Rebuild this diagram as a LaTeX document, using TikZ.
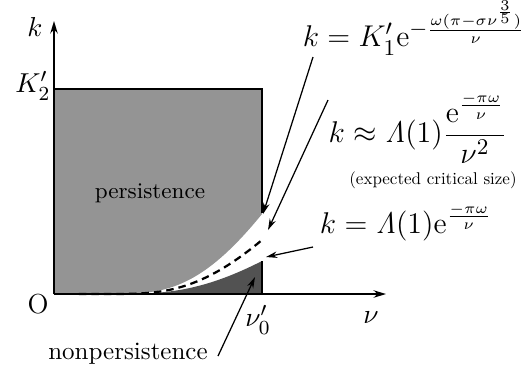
\documentclass[tikz,border=0pt]{standalone}
\usepackage{amsmath, amssymb}
\usepackage{tikz}
\usetikzlibrary{arrows.meta}

\begin{document}
\begin{tikzpicture}[x=0.4pt, y=-0.4pt,
    pointer/.style={-{Stealth[length=4.5pt,width=2.6pt]}, line width=0.5pt},
    axis/.style={-{Stealth[length=5pt,width=3pt]}, line width=0.6pt},
    law/.style={font=\fontsize{12.4}{15}\selectfont, inner sep=1pt},
    axlbl/.style={font=\fontsize{11}{13}\selectfont, inner sep=1pt}]
  \useasboundingbox (0,0) rectangle (524,369);
  % regions
  \fill[black!42] (54,294) -- (54,89) -- (262,89) -- (262,213)
    -- plot[domain=1:0.12, samples=60] ({54+208*\x},{294-80*exp(-3.2*(1/\x-1))}) -- cycle;
  \draw[line width=0.5pt] (54,294) -- (54,89) -- (262,89) -- (262,213);
  \fill[black!68] (54,294)
    -- plot[domain=0.12:1, samples=60] ({54+208*\x},{294-33*exp(-3.2*(1/\x-1))}) -- (262,294) -- cycle;
  \draw[line width=0.5pt] (262,261) -- (262,294);
  \draw[dashed, line width=0.9pt, dash pattern=on 3pt off 2pt]
    plot[domain=0.12:1, samples=60] ({54+208*\x},{294-54*exp(-3.2*(1/\x-1))});
  % axes
  \coordinate (O) at (54,294);
  \coordinate (ktip) at (54,21);
  \coordinate (nutip) at (386,294);
  \draw[axis] (O) -- (ktip);
  \draw[axis] (O) -- (nutip);
  \draw[line width=1.1pt] (O) -- (262,294);
  \node[axlbl] (klbl) at (35,27) {$k$};
  \node[axlbl] (Ktwo) at (33,86) {$K_2'$};
  \node[axlbl] (olbl) at (38,304) {O};
  \node[axlbl] (nuzero) at (258,320) {$\nu_0'$};
  \node[axlbl] (nulbl) at (371,318) {$\nu$};
  \node[font=\small] (pers) at (150,193) {persistence};
  \node (nonpers) at (128,354) {nonpersistence};
  % laws
  \node[law] (upper) at (414,28) {$k = K_1'\mathrm{e}^{-\frac{\omega(\pi-\sigma\nu^{\frac{3}{5}})}{\nu}}$};
  \node[law] (mean) at (418,128) {$k \approx \mathit{\Lambda}(1)\dfrac{\mathrm{e}^{\frac{-\pi\omega}{\nu}}}{\nu^2}$};
  \node[inner sep=1pt] (crit) at (433,180) {\scalebox{0.68}{(expected critical size)}};
  \node[law] (lower) at (406,222) {$k = \mathit{\Lambda}(1)\mathrm{e}^{\frac{-\pi\omega}{\nu}}$};
  % pointers
  \coordinate (upperfrom) at (313,57);
  \coordinate (upperto) at (263,214);
  \coordinate (meanfrom) at (328,100);
  \coordinate (meanto) at (268,230);
  \coordinate (lowerfrom) at (313,247);
  \coordinate (lowerto) at (266,257);
  \coordinate (nonfrom) at (218,356);
  \coordinate (nonto) at (255,277);
  \draw[pointer] (upperfrom) -- (upperto);
  \draw[pointer] (meanfrom) -- (meanto);
  \draw[pointer] (lowerfrom) -- (lowerto);
  \draw[pointer] (nonfrom) -- (nonto);
\end{tikzpicture}
\end{document}
